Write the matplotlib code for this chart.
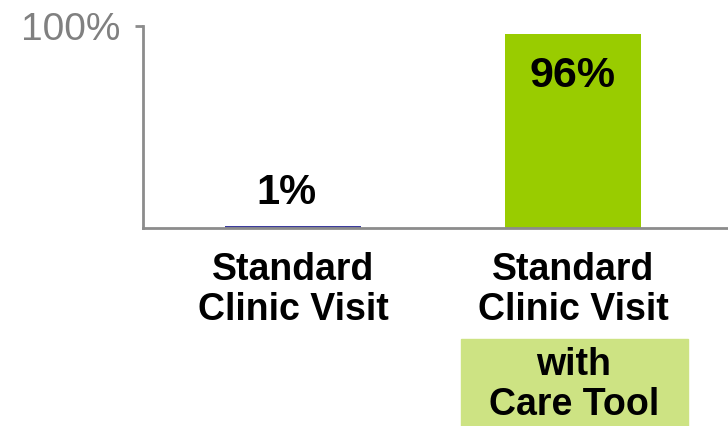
from matplotlib import pyplot as plt
from matplotlib.patches import Rectangle

plt.rcParams['font.family'] = ['Liberation Sans', 'DejaVu Sans']

categories = ['Standard\nClinic Visit', 'Standard\nClinic Visit']
values = [0.01, 0.96]
value_labels = ['1%', '96%']
bar_colors = ['#3b3b9e', '#99cc00']
extra_label = 'with\nCare Tool'

fig = plt.figure(figsize=(7.28, 4.26), dpi=100)
ax = fig.add_axes([0.1964, 0.4648, 0.8036, 0.4742])

x = list(range(len(values)))
bars = ax.bar(x, values, width=0.486, color=bar_colors)

ax.set_xlim(-0.536, 1.554)
ax.set_ylim(0, 1.0)

# only the 100% tick is shown
ax.set_yticks([1.0])
ax.set_yticklabels(['100%'], fontsize=28, color='#808080')
ax.tick_params(axis='y', length=6, width=2, color='#8c8c8c', pad=10)
ax.set_xticks(x)
ax.set_xticklabels(categories, fontsize=27, fontweight='bold', linespacing=1.15)
ax.tick_params(axis='x', length=0, pad=17)

for s in ['top', 'right']:
    ax.spines[s].set_visible(False)
for s in ['left', 'bottom']:
    ax.spines[s].set_color('#8c8c8c')
    ax.spines[s].set_linewidth(2)

# 1% above its bar, 96% inside its bar
ax.annotate(value_labels[0], (x[0], values[0]), xytext=(-5, 9), textcoords='offset points',
            ha='center', va='bottom', fontsize=30, fontweight='bold')
ax.annotate(value_labels[1], (x[1], values[1]), xytext=(0, -16), textcoords='offset points',
            ha='center', va='top', fontsize=31, fontweight='bold')

# highlighted extra line under the second category
fig.patches.append(Rectangle((461 / 728, 0), 227 / 728, 87 / 426, transform=fig.transFigure,
                             color='#cde383', zorder=0))
fig.text(574 / 728, 41 / 426, extra_label, ha='center', va='center', fontsize=27,
         fontweight='bold', linespacing=1.15)

fig.savefig('out.png', dpi=100)
